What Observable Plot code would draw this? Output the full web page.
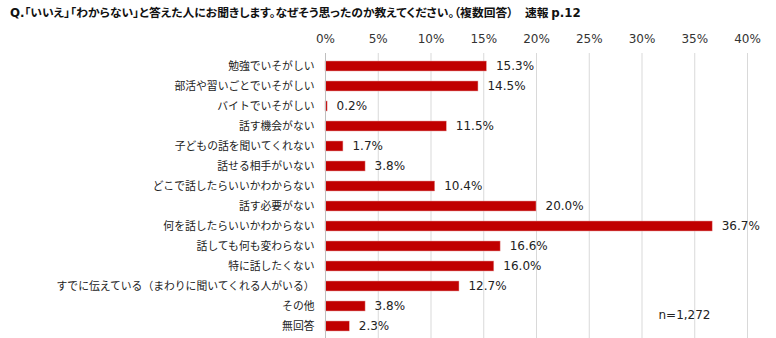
<!DOCTYPE html>
<html><head><meta charset="utf-8">
<script src="https://cdn.jsdelivr.net/npm/d3@7"></script>
<script src="https://cdn.jsdelivr.net/npm/@observablehq/plot@0.6"></script>
<style>
body{margin:0;background:#fff;width:776px;height:338px;overflow:hidden}
#title{height:24px;line-height:24px;padding-left:10px;font-family:"Noto Sans CJK JP";font-weight:bold;font-size:11.8px;color:#111;font-feature-settings:"palt";white-space:nowrap}
#title .num{font-family:"DejaVu Sans";font-weight:bold}
</style></head><body>
<div id="title"><span class="num">Q.</span>「いいえ」「わからない」と答えた人にお聞きします。なぜそう思ったのか教えてください。（複数回答）　速報 <span class="num">p.12</span></div>
<div id="chart"></div>
<script>
const categories = ["勉強でいそがしい","部活や習いごとでいそがしい","バイトでいそがしい","話す機会がない","子どもの話を聞いてくれない","話せる相手がいない","どこで話したらいいかわからない","話す必要がない","何を話したらいいかわからない","話しても何も変わらない","特に話したくない","すでに伝えている（まわりに聞いてくれる人がいる）","その他","無回答"];
const values = [15.3,14.5,0.2,11.5,1.7,3.8,10.4,20.0,36.7,16.6,16.0,12.7,3.8,2.3];
const xTicks = [0,5,10,15,20,25,30,35,40];
const note = "n=1,272";

const data = categories.map((c,i)=>({category:c,value:values[i]}));

const chart = Plot.plot({
  width:776, height:314,
  marginLeft:325, marginRight:29, marginTop:29, marginBottom:0,
  style:{background:"#fff"},
  x:{domain:[0,40]},
  y:{domain:categories, paddingInner:0.5, paddingOuter:0.375},
  marks:[
    Plot.ruleX(xTicks.filter(d=>d>0),{stroke:"#d9d9d9",strokeWidth:1}),
    Plot.axisX({anchor:"top", ticks:xTicks, tickFormat:d=>d+"%", tickSize:0, tickPadding:11, fontSize:12, fontFamily:"DejaVu Sans", fill:"#333", label:null}),
    Plot.axisY({tickSize:0, tickPadding:11, fontSize:10.8, fontFamily:"Noto Sans CJK JP", fill:"#222", label:null}),
    Plot.barX(data,{x:"value", y:"category", fill:"#C00000", stroke:"#e8a0a0", strokeWidth:0.5}),
    Plot.ruleX([0],{stroke:"#bfbfbf",strokeWidth:1}),
    Plot.text(data,{x:"value", y:"category", text:d=>d.value.toFixed(1)+"%", textAnchor:"start", dx:9, fontSize:12, fontFamily:"DejaVu Sans", fill:"#222"}),
    Plot.text([note],{frameAnchor:"bottom-right", dx:-37, dy:-20, fontSize:12, fontFamily:"DejaVu Sans", fill:"#222", textAnchor:"end"})
  ]
});
document.getElementById("chart").append(chart);
</script>
</body></html>
